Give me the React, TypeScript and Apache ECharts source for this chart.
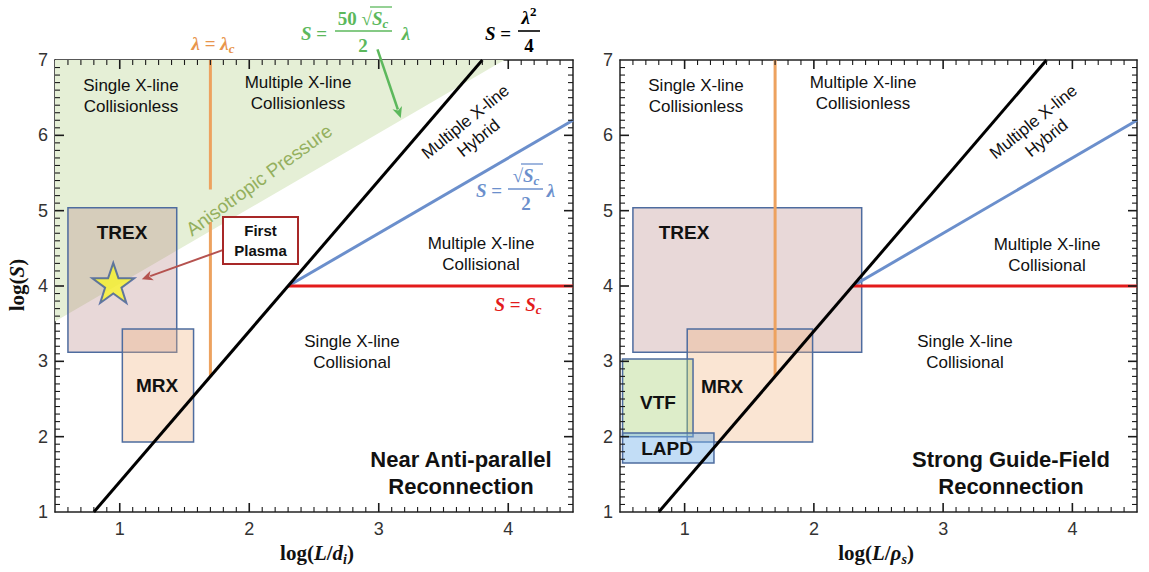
import React, { useEffect, useRef } from 'react';
import * as echarts from 'echarts';

// ---------- data ----------
const X_MIN = 0.5;
const X_MAX = 4.5;
const Y_MIN = 1;
const Y_MAX = 7;
const xTickValues = [1, 2, 3, 4];
const yTickValues = [1, 2, 3, 4, 5, 6, 7];

// S = lambda^2 / 4  (log S = 2 log(lambda) - log 4)
const hallLine = [[0.8, 1], [3.8, 7]];
// S = sqrt(Sc)/2 * lambda
const blueLine = [[2.3, 4], [4.5, 6.2]];
// S = Sc
const redLine = [[2.3, 4], [4.5, 4]];
// lambda = lambda_c
const orangeLeftUpper = [[1.7, 7], [1.7, 5.28]];
const orangeLeftLower = [[1.7, 4.85], [1.7, 2.8]];
const orangeRight = [[1.7, 7], [1.7, 2.8]];
// anisotropic pressure boundary (area above is shaded)
const anisoBoundary = [[0.5, 3.53], [3.97, 7]];
// boxes: [xMin, xMax, yMin, yMax]
const leftBoxes = [
  [0.6, 1.44, 3.12, 5.04], // TREX
  [1.02, 1.57, 1.93, 3.43], // MRX
];
const rightBoxes = [
  [0.6, 2.37, 3.12, 5.04], // TREX
  [1.02, 1.99, 1.93, 3.43], // MRX
  [0.52, 1.065, 2.0, 3.03], // VTF
  [0.52, 1.227, 1.65, 2.05], // LAPD
];
const firstPlasma = [[0.95, 4.04]];
// arrows: [x0, y0, x1, y1]
const leftArrows = [
  [1.8, 4.48, 1.17, 4.09],
  [2.99, 7.14, 3.17, 6.23],
];

// tick positions (axis decoration): [value, isMajor]
function tickList(lo: number, hi: number) {
  const out: number[][] = [];
  for (let i = Math.round(lo * 10) + 1; i < Math.round(hi * 10); i++) {
    out.push([i / 10, i % 10 === 0 ? 1 : 0]);
  }
  return out;
}
const xTicks = tickList(X_MIN, X_MAX);
const yTicks = tickList(Y_MIN, Y_MAX);

// ---------- layout & styles ----------
const GRIDS = [
  { left: 55, top: 60, width: 518, height: 452 },
  { left: 620, top: 60, width: 517, height: 452 },
];
const leftBoxFills = ['rgba(178,125,125,0.3)', 'rgba(240,180,130,0.35)'];
const rightBoxFills = [
  'rgba(178,125,125,0.3)',
  'rgba(240,180,130,0.35)',
  'rgba(170,210,120,0.4)',
  'rgba(120,180,235,0.45)',
];
const arrowColors = ['#b5524f', '#5cb85c'];
const arrowWidths = [2, 2.5];

const SANS = '"Liberation Sans", Arial, Helvetica, sans-serif';
const SERIF = '"Liberation Serif", "Times New Roman", serif';

const STAR_PATH =
  'path://M50,2 L61.8,36.2 L97.6,36.2 L68.6,57.4 L79.6,91.6 L50,70.4 L20.4,91.6 L31.4,57.4 L2.4,36.2 L38.2,36.2 Z';

function xAx(g: number, pos: string, showLabel: boolean) {
  return {
    type: 'value',
    gridIndex: g,
    position: pos,
    min: X_MIN,
    max: X_MAX,
    interval: 0.5,
    axisLine: { show: true, onZero: false, lineStyle: { color: '#222', width: 1.5 } },
    axisTick: { show: false },
    axisLabel: showLabel
      ? {
          show: true,
          customValues: xTickValues,
          fontSize: 18,
          color: '#333',
          fontFamily: SANS,
          margin: 8,
        }
      : { show: false },
    splitLine: { show: false },
  };
}

function yAx(g: number, pos: string, showLabel: boolean) {
  return {
    type: 'value',
    gridIndex: g,
    position: pos,
    min: Y_MIN,
    max: Y_MAX,
    interval: 1,
    axisLine: { show: true, onZero: false, lineStyle: { color: '#222', width: 1.5 } },
    axisTick: { show: false },
    axisLabel: showLabel
      ? { show: true, customValues: yTickValues, fontSize: 18, color: '#333', fontFamily: SANS, margin: 7 }
      : { show: false },
    splitLine: { show: false },
  };
}

function lineSeries(name: string, data: number[][], xi: number, yi: number, color: string, width: number, z: number) {
  return {
    name,
    type: 'line',
    xAxisIndex: xi,
    yAxisIndex: yi,
    data,
    symbol: 'none',
    lineStyle: { color, width, cap: 'butt' },
    z,
    silent: true,
  };
}

function boxSeries(data: number[][], fills: string[], xi: number, yi: number) {
  return {
    type: 'custom',
    xAxisIndex: xi,
    yAxisIndex: yi,
    data,
    encode: { x: [0, 1], y: [2, 3] },
    z: 2,
    silent: true,
    renderItem: (params: any, api: any) => {
      const p0 = api.coord([api.value(0), api.value(3)]);
      const p1 = api.coord([api.value(1), api.value(2)]);
      return {
        type: 'rect',
        shape: { x: p0[0], y: p0[1], width: p1[0] - p0[0], height: p1[1] - p0[1] },
        style: { fill: fills[params.dataIndex], stroke: '#4e6c9f', lineWidth: 1.5 },
      };
    },
  };
}

function arrowSeries(data: number[][], xi: number, yi: number) {
  return {
    type: 'custom',
    xAxisIndex: xi,
    yAxisIndex: yi,
    data,
    encode: { x: [0, 2], y: [1, 3] },
    z: 6,
    silent: true,
    clip: false,
    renderItem: (params: any, api: any) => {
      const p0 = api.coord([api.value(0), api.value(1)]);
      const p1 = api.coord([api.value(2), api.value(3)]);
      const dx = p1[0] - p0[0];
      const dy = p1[1] - p0[1];
      const len = Math.sqrt(dx * dx + dy * dy);
      const ux = dx / len;
      const uy = dy / len;
      const head = 11;
      const hw = 5;
      const bx = p1[0] - ux * head;
      const by = p1[1] - uy * head;
      const color = arrowColors[params.dataIndex];
      return {
        type: 'group',
        children: [
          {
            type: 'line',
            shape: { x1: p0[0], y1: p0[1], x2: bx + ux * 2, y2: by + uy * 2 },
            style: { stroke: color, lineWidth: arrowWidths[params.dataIndex] },
          },
          {
            type: 'polygon',
            shape: {
              points: [
                [p1[0], p1[1]],
                [bx - uy * hw, by + ux * hw],
                [bx + ux * 3, by + uy * 3],
                [bx + uy * hw, by - ux * hw],
              ],
            },
            style: { fill: color },
          },
        ],
      };
    },
  };
}

// ---------- annotation helpers ----------
function txt(x: number, y: number, text: string, extra: any = {}) {
  return {
    type: 'text',
    x,
    y,
    z: 20,
    silent: true,
    rotation: extra.rotation || 0,
    style: {
      text,
      fill: extra.fill || '#111',
      font: extra.font || `17px ${SANS}`,
      align: 'center',
      verticalAlign: 'middle',
      lineHeight: extra.lineHeight || 21,
      rich: extra.rich,
    },
  };
}

function seg(x1: number, y1: number, x2: number, y2: number, color: string, w: number) {
  return {
    type: 'line',
    z: 20,
    silent: true,
    shape: { x1, y1, x2, y2 },
    style: { stroke: color, lineWidth: w },
  };
}

function hline(x1: number, x2: number, y: number, color: string, w = 1.5) {
  return seg(x1, y, x2, y, color, w);
}

function mathRich(color: string, size = 19) {
  return {
    bi: { font: `italic bold ${size}px ${SERIF}`, fill: color, lineHeight: 24 },
    b: { font: `bold ${size}px ${SERIF}`, fill: color, lineHeight: 24 },
    sub: { font: `italic bold ${Math.round(size * 0.68)}px ${SERIF}`, fill: color, lineHeight: 13, verticalAlign: 'bottom' },
    sup: { font: `bold ${Math.round(size * 0.68)}px ${SERIF}`, fill: color, lineHeight: 13, verticalAlign: 'top' },
  };
}

// frame ticks: mapped with the same linear scale as the grid axes
function buildTicks() {
  const out: any[] = [];
  const col = '#1a1a1a';
  GRIDS.forEach((gr) => {
    const px = (v: number) => gr.left + ((v - X_MIN) / (X_MAX - X_MIN)) * gr.width;
    const py = (v: number) => gr.top + gr.height - ((v - Y_MIN) / (Y_MAX - Y_MIN)) * gr.height;
    const bottom = gr.top + gr.height;
    const top = gr.top;
    const left = gr.left;
    const right = gr.left + gr.width;
    xTicks.forEach(([v, major]) => {
      const len = major ? 9 : 5;
      const w = major ? 1.6 : 1.1;
      const x = px(v);
      out.push(seg(x, bottom, x, bottom - len, col, w));
      out.push(seg(x, top, x, top + len, col, w));
    });
    yTicks.forEach(([v, major]) => {
      const len = major ? 9 : 5;
      const w = major ? 1.6 : 1.1;
      const y = py(v);
      out.push(seg(left, y, left + len, y, col, w));
      out.push(seg(right, y, right - len, y, col, w));
    });
  });
  return out;
}

function buildGraphic() {
  const g: any[] = [];
  const regionFont = `17px ${SANS}`;
  const boldFont = `bold 19px ${SANS}`;
  const titleFont = `bold 22px ${SANS}`;

  // ---- left panel labels ----
  g.push(txt(131, 96, 'Single X-line\nCollisionless', { font: regionFont }));
  g.push(txt(298, 93, 'Multiple X-line\nCollisionless', { font: regionFont }));
  g.push(txt(481, 254, 'Multiple X-line\nCollisional', { font: regionFont }));
  g.push(txt(352, 352, 'Single X-line\nCollisional', { font: regionFont }));
  g.push(txt(472, 130, 'Multiple X-line\nHybrid', { font: regionFont, rotation: (39 * Math.PI) / 180 }));
  g.push(
    txt(259, 180, 'Anisotropic Pressure', {
      font: `19px ${SANS}`,
      fill: '#94b05e',
      rotation: (36 * Math.PI) / 180,
    })
  );
  g.push(txt(122, 232, 'TREX', { font: boldFont }));
  g.push(txt(157, 385, 'MRX', { font: boldFont }));
  g.push(txt(461, 473, 'Near Anti-parallel\nReconnection', { font: titleFont, lineHeight: 27 }));

  // First Plasma box
  g.push({
    type: 'rect',
    z: 20,
    silent: true,
    shape: { x: 223, y: 217, width: 75, height: 47 },
    style: { fill: '#fff', stroke: '#a82828', lineWidth: 2 },
  });
  g.push(txt(260.5, 240.5, 'First\nPlasma', { font: `bold 15px ${SANS}`, lineHeight: 20 }));

  // ---- right panel labels ----
  g.push(txt(696, 96, 'Single X-line\nCollisionless', { font: regionFont }));
  g.push(txt(863, 93, 'Multiple X-line\nCollisionless', { font: regionFont }));
  g.push(txt(1047, 255, 'Multiple X-line\nCollisional', { font: regionFont }));
  g.push(txt(965, 352, 'Single X-line\nCollisional', { font: regionFont }));
  g.push(txt(1040, 130, 'Multiple X-line\nHybrid', { font: regionFont, rotation: (39 * Math.PI) / 180 }));
  g.push(txt(684, 232, 'TREX', { font: boldFont }));
  g.push(txt(722, 386, 'MRX', { font: boldFont }));
  g.push(txt(658, 402, 'VTF', { font: boldFont }));
  g.push(txt(667, 448, 'LAPD', { font: boldFont }));
  g.push(txt(1011, 473, 'Strong Guide-Field\nReconnection', { font: titleFont, lineHeight: 27 }));

  // ---- axis names ----
  const axRich = {
    b: { font: `bold 21px ${SERIF}`, fill: '#111', lineHeight: 26 },
    bi: { font: `italic bold 21px ${SERIF}`, fill: '#111', lineHeight: 26 },
    sub: { font: `italic bold 14px ${SERIF}`, fill: '#111', lineHeight: 15, verticalAlign: 'bottom' },
  };
  g.push(txt(317, 553, '{b|log(}{bi|L}{b|/}{bi|d}{sub|i}{b|)}', { rich: axRich }));
  g.push(txt(876, 553, '{b|log(}{bi|L}{b|/}{bi|ρ}{sub|s}{b|)}', { rich: axRich }));
  g.push(txt(17, 285, '{b|log(}{bi|S}{b|)}', { rich: axRich, rotation: Math.PI / 2 }));

  // ---- formulas ----
  const orange = '#e8954c';
  const green = '#5cb85c';
  const blue = '#6b8fcc';
  const red = '#e31b1b';
  const black = '#000';

  g.push(txt(213, 43, '{bi|λ}{b| = }{bi|λ}{sub|c}', { rich: mathRich(orange) }));

  g.push(txt(314, 33, '{bi|S}{b| =}', { rich: mathRich(green) }));
  g.push(txt(363, 18, '{b|50 √}{bi|S}{sub|c}', { rich: mathRich(green) }));
  g.push(hline(370, 392, 7, green, 1.3));
  g.push(hline(335, 392, 31, green, 1.6));
  g.push(txt(363, 45, '{b|2}', { rich: mathRich(green) }));
  g.push(txt(406, 33, '{bi|λ}', { rich: mathRich(green) }));

  g.push(txt(498, 33, '{bi|S}{b| =}', { rich: mathRich(black) }));
  g.push(txt(529, 17, '{bi|λ}{sup|2}', { rich: mathRich(black) }));
  g.push(hline(518, 540, 31, black, 1.6));
  g.push(txt(529, 45, '{b|4}', { rich: mathRich(black) }));

  g.push(txt(489, 190, '{bi|S}{b| =}', { rich: mathRich(blue) }));
  g.push(txt(526, 175, '{b|√}{bi|S}{sub|c}', { rich: mathRich(blue) }));
  g.push(hline(521, 543, 164, blue, 1.3));
  g.push(hline(508, 543, 189, blue, 1.6));
  g.push(txt(526, 203, '{b|2}', { rich: mathRich(blue) }));
  g.push(txt(551, 190, '{bi|λ}', { rich: mathRich(blue) }));

  g.push(txt(518, 304, '{bi|S}{b| = }{bi|S}{sub|c}', { rich: mathRich(red) }));

  return g.concat(buildTicks());
}

function buildOption() {
  const xAxis = [xAx(0, 'bottom', true), xAx(0, 'top', false), xAx(1, 'bottom', true), xAx(1, 'top', false)];
  const yAxis = [yAx(0, 'left', true), yAx(0, 'right', false), yAx(1, 'left', true), yAx(1, 'right', false)];

  const series: any[] = [
    // ----- left panel -----
    {
      type: 'line',
      xAxisIndex: 0,
      yAxisIndex: 0,
      data: anisoBoundary,
      symbol: 'none',
      lineStyle: { width: 0 },
      areaStyle: { color: '#e5efd6', opacity: 1, origin: 'end' },
      z: 1,
      silent: true,
    },
    boxSeries(leftBoxes, leftBoxFills, 0, 0),
    lineSeries('hall', hallLine, 0, 0, '#000', 3, 4),
    lineSeries('orange1', orangeLeftUpper, 0, 0, '#eda25f', 3, 3),
    lineSeries('orange2', orangeLeftLower, 0, 0, '#eda25f', 3, 3),
    lineSeries('blue', blueLine, 0, 0, '#6b8fcc', 3, 3),
    lineSeries('red', redLine, 0, 0, '#e31b1b', 3, 3),
    {
      type: 'scatter',
      xAxisIndex: 0,
      yAxisIndex: 0,
      data: firstPlasma,
      symbol: STAR_PATH,
      symbolSize: [42, 40],
      itemStyle: { color: '#f7f42c', borderColor: '#3d5c9c', borderWidth: 2 },
      z: 5,
      silent: true,
    },
    arrowSeries(leftArrows, 0, 0),

    // ----- right panel -----
    boxSeries(rightBoxes, rightBoxFills, 2, 2),
    lineSeries('hallR', hallLine, 2, 2, '#000', 3, 4),
    lineSeries('orangeR', orangeRight, 2, 2, '#eda25f', 3, 3),
    lineSeries('blueR', blueLine, 2, 2, '#6b8fcc', 3, 3),
    lineSeries('redR', redLine, 2, 2, '#e31b1b', 3, 3),
  ];

  return {
    animation: false,
    backgroundColor: '#fff',
    grid: GRIDS,
    xAxis,
    yAxis,
    series,
    graphic: buildGraphic(),
  };
}

export default function App() {
  const ref = useRef<HTMLDivElement>(null);
  useEffect(() => {
    if (!ref.current) return;
    const chart = echarts.init(ref.current, undefined, { renderer: 'svg' });
    chart.setOption(buildOption() as any);
    return () => chart.dispose();
  }, []);
  return (
    <div
      ref={ref}
      style={{ position: 'absolute', left: 0, top: 0, width: 1149, height: 572, background: '#fff' }}
    />
  );
}
